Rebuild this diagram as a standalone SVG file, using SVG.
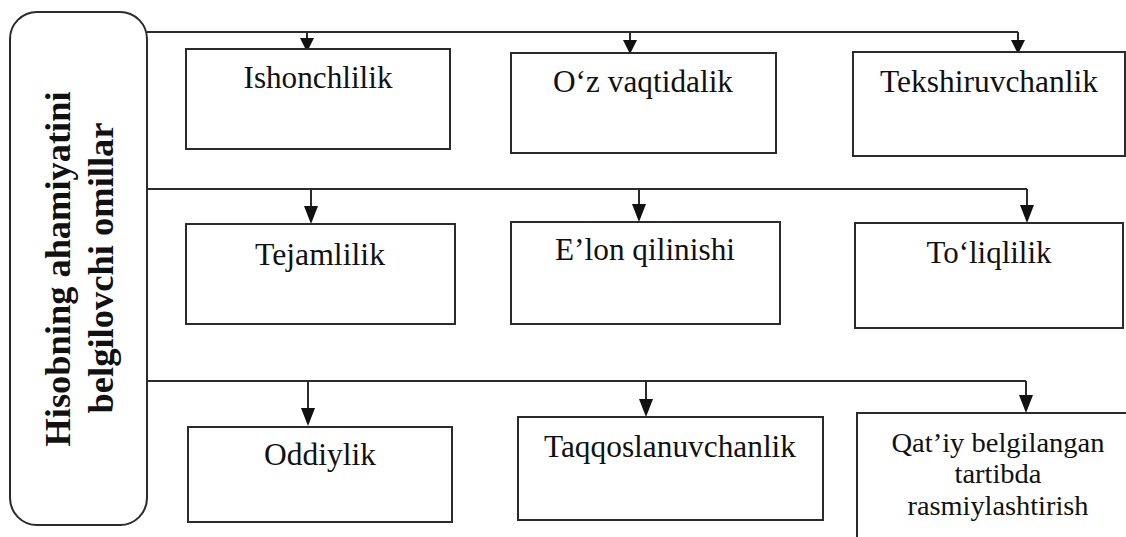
<svg xmlns="http://www.w3.org/2000/svg" width="1126" height="537" viewBox="0 0 1126 537">
<style>
  .box{fill:#fff;stroke:#2b2b2b;stroke-width:2}
  .lbl{font-size:31px;fill:#111;text-anchor:middle}
  .sm{font-size:28px}
  .main{font-size:36px;font-weight:bold;fill:#111;text-anchor:middle}
  .ln{fill:none;stroke:#2b2b2b;stroke-width:2}
</style>
<rect width="1126" height="537" fill="#fff"/>
<g id="main" font-family="'Liberation Serif', 'Times New Roman', Tinos, 'DejaVu Serif', serif">
  <rect class="box" x="10" y="12" width="137" height="513" rx="27" ry="27"/>
  <text class="main" transform="translate(70,269) rotate(-90)" textLength="355" lengthAdjust="spacingAndGlyphs">Hisobning ahamiyatini</text>
  <text class="main" transform="translate(113,268) rotate(-90)" textLength="291" lengthAdjust="spacingAndGlyphs">belgilovchi omillar</text>
</g>
<g id="connectors">
  <path class="ln" d="M147,32 H1018"/>
  <path class="ln" d="M147,189 H1027"/>
  <path class="ln" d="M147,381 H1026"/>
  <g id="arrow-heads" fill="#111">
    <path class="ln" d="M307,32 V40"/><path d="M300,38 L314,38 L307,52 Z"/>
    <path class="ln" d="M630,32 V42"/><path d="M623,40 L637,40 L630,54 Z"/>
    <path class="ln" d="M1018,32 V42"/><path d="M1011,40 L1025,40 L1018,54 Z"/>
    <path class="ln" d="M311,189 V208"/><path d="M304,206 L318,206 L311,224 Z"/>
    <path class="ln" d="M639,189 V206"/><path d="M632,204 L646,204 L639,222 Z"/>
    <path class="ln" d="M1027,189 V207"/><path d="M1020,205 L1034,205 L1027,223 Z"/>
    <path class="ln" d="M308,381 V410"/><path d="M301,408 L315,408 L308,426 Z"/>
    <path class="ln" d="M646,381 V401"/><path d="M639,399 L653,399 L646,417 Z"/>
    <path class="ln" d="M1026,381 V397"/><path d="M1019,395 L1033,395 L1026,413 Z"/>
  </g>
</g>
<g id="nodes" font-family="'Liberation Serif', 'Times New Roman', Tinos, 'DejaVu Serif', serif">
<g id="n1"><rect class="box" x="186" y="49" width="264" height="100"/><text class="lbl" x="318" y="88" textLength="149" lengthAdjust="spacingAndGlyphs">Ishonchlilik</text></g>
<g id="n2"><rect class="box" x="511" y="53" width="265" height="100"/><text class="lbl" x="643" y="92" textLength="180" lengthAdjust="spacingAndGlyphs">O‘z vaqtidalik</text></g>
<g id="n3"><rect class="box" x="853" y="52" width="272" height="104"/><text class="lbl" x="989" y="92" textLength="218" lengthAdjust="spacingAndGlyphs">Tekshiruvchanlik</text></g>
<g id="n4"><rect class="box" x="186" y="224" width="269" height="100"/><text class="lbl" x="320" y="265" textLength="130" lengthAdjust="spacingAndGlyphs">Tejamlilik</text></g>
<g id="n5"><rect class="box" x="511" y="222" width="269" height="102"/><text class="lbl" x="645" y="260" textLength="180" lengthAdjust="spacingAndGlyphs">E’lon qilinishi</text></g>
<g id="n6"><rect class="box" x="855" y="223" width="268" height="105"/><text class="lbl" x="989" y="263" textLength="125" lengthAdjust="spacingAndGlyphs">To‘liqlilik</text></g>
<g id="n7"><rect class="box" x="188" y="427" width="264" height="95"/><text class="lbl" x="320" y="465" textLength="112" lengthAdjust="spacingAndGlyphs">Oddiylik</text></g>
<g id="n8"><rect class="box" x="518" y="417" width="305" height="103"/><text class="lbl" x="670" y="457" textLength="252" lengthAdjust="spacingAndGlyphs">Taqqoslanuvchanlik</text></g>
<g id="n9"><rect class="box" x="857" y="413" width="285" height="160"/>
  <text class="lbl sm" x="998" y="452" textLength="213" lengthAdjust="spacingAndGlyphs">Qat’iy belgilangan</text>
  <text class="lbl sm" x="998" y="483" textLength="87" lengthAdjust="spacingAndGlyphs">tartibda</text>
  <text class="lbl sm" x="998" y="515" textLength="181" lengthAdjust="spacingAndGlyphs">rasmiylashtirish</text>
</g>
</g>
</svg>
